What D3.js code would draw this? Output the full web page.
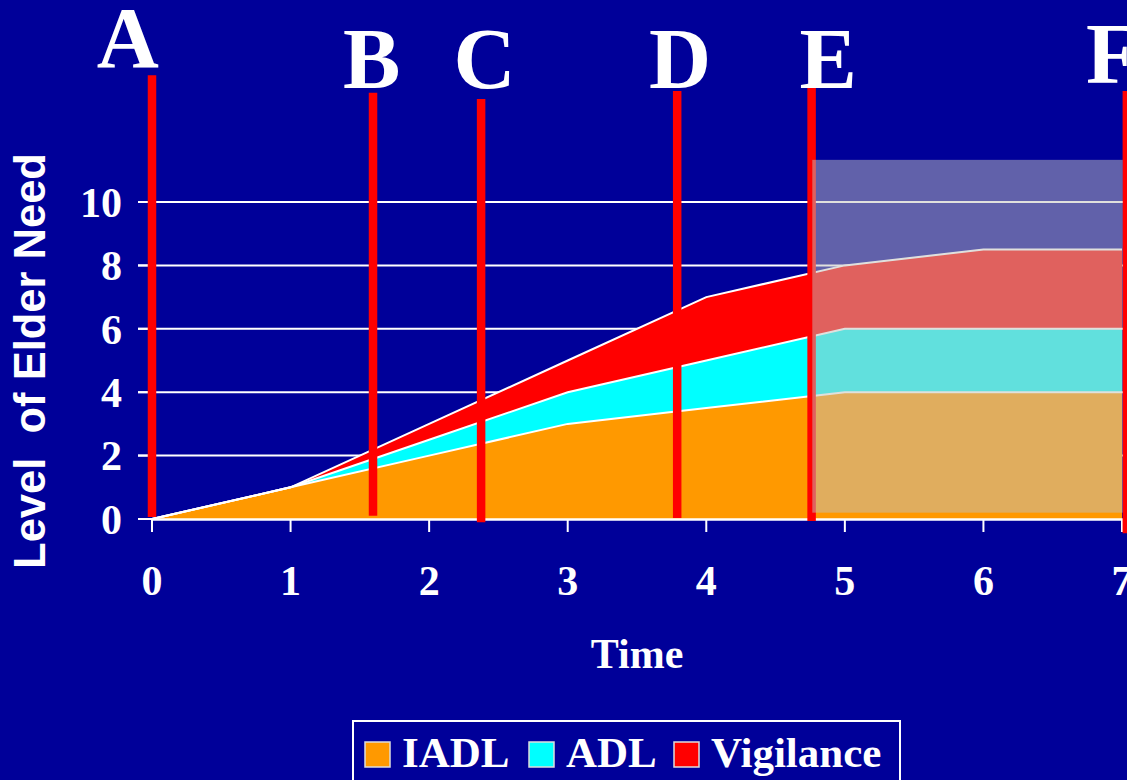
<!DOCTYPE html>
<html>
<head>
<meta charset="utf-8">
<script src="https://cdn.jsdelivr.net/npm/d3@7/dist/d3.min.js"></script>
<style>
  html, body { margin: 0; padding: 0; background: #000099; }
  svg { display: block; }
</style>
</head>
<body>
<svg id="chart" width="1127" height="780"></svg>
<script>
// Time points (x) and the need contributed by each kind of care
const times = [0, 1, 2, 3, 4, 5, 6, 7];
const iadl = [0, 1, 2, 3, 3.5, 4, 4, 4];
const adl = [0, 0, 0.5, 1, 1.5, 2, 2, 2];
const vigilance = [0, 0, 0.5, 1, 2, 2, 2.5, 2.5];

const seriesNames = ["IADL", "ADL", "Vigilance"];
const seriesColors = ["#FF9900", "#00FFFF", "#FF0000"];

const xTicks = [0, 1, 2, 3, 4, 5, 6, 7];
const yTicks = [0, 2, 4, 6, 8, 10];

// Stage markers A–F: time of the vertical bar, its extent in need units,
// and where its letter sits
const markerLabels = ["A", "B", "C", "D", "E", "F"];
const markerTimes = [0, 1.595, 2.375, 3.79, 4.76, 7.035];
const markerTops = [14.0, 13.45, 13.25, 13.5, 13.6, 13.5];
const markerBottoms = [0.06, 0.1, -0.1, 0.03, -0.06, -0.45];
const labelTimes = [-0.175, 1.585, 2.4, 3.81, 4.88, 6.93];
const labelLevels = [14.25, 13.6, 13.6, 13.6, 13.6, 13.75];

// Projected period shaded from E onward
const projStart = 4.765, projEnd = 7.005, projTop = 11.33, projBottom = 0.2;

const svg = d3.select("#chart");
const W = 1127, H = 780;

svg.append("rect").attr("width", W).attr("height", H).attr("fill", "#000099");

const x = d3.scaleLinear().domain([0, 7]).range([152, 1122]);
const y = d3.scaleLinear().domain([0, 10]).range([519, 202]);

const serif = "'Liberation Serif', 'Times New Roman', serif";
const sans = "'Liberation Sans', Arial, sans-serif";

// Gridlines
svg.append("g")
  .selectAll("line")
  .data(yTicks.filter(d => d > 0))
  .join("line")
  .attr("x1", x(0) - 14).attr("x2", x(7) + 1)
  .attr("y1", d => y(d)).attr("y2", d => y(d))
  .attr("stroke", "#ffffff").attr("stroke-width", 2);

// Stacked areas
const rows = times.map((t, i) => ({ t, IADL: iadl[i], ADL: adl[i], Vigilance: vigilance[i] }));
const stack = d3.stack().keys(seriesNames);
const layers = stack(rows);

const area = d3.area()
  .x(d => x(d.data.t))
  .y0(d => y(d[0]))
  .y1(d => y(d[1]));
const topLine = d3.line()
  .x(d => x(d.data.t))
  .y(d => y(d[1]));

const gAreas = svg.append("g");
gAreas.selectAll("path.area")
  .data(layers)
  .join("path")
  .attr("class", "area")
  .attr("d", area)
  .attr("fill", (d, i) => seriesColors[i]);
gAreas.selectAll("path.edge")
  .data(layers)
  .join("path")
  .attr("class", "edge")
  .attr("d", topLine)
  .attr("fill", "none")
  .attr("stroke", "#ffffff")
  .attr("stroke-width", 2);

// X axis line and ticks
svg.append("line")
  .attr("x1", x(0)).attr("x2", x(7) + 2)
  .attr("y1", y(0) + 0.5).attr("y2", y(0) + 0.5)
  .attr("stroke", "#ffffff").attr("stroke-width", 2.5);
svg.append("g")
  .selectAll("line")
  .data(xTicks)
  .join("line")
  .attr("x1", d => x(d)).attr("x2", d => x(d))
  .attr("y1", y(0)).attr("y2", y(0) + 13)
  .attr("stroke", "#ffffff").attr("stroke-width", 2);

// Y tick marks
svg.append("g")
  .selectAll("line")
  .data(yTicks)
  .join("line")
  .attr("x1", x(0) - 14).attr("x2", x(0))
  .attr("y1", d => y(d)).attr("y2", d => y(d))
  .attr("stroke", "#ffffff").attr("stroke-width", 2);

// Stage marker bars
svg.append("g")
  .selectAll("line")
  .data(markerTimes)
  .join("line")
  .attr("x1", d => x(d)).attr("x2", d => x(d))
  .attr("y1", (d, i) => y(markerTops[i]))
  .attr("y2", (d, i) => y(markerBottoms[i]))
  .attr("stroke", "#FF0000").attr("stroke-width", 8.5);

// Shaded projection
svg.append("rect")
  .attr("x", x(projStart))
  .attr("y", y(projTop))
  .attr("width", x(projEnd) - x(projStart))
  .attr("height", y(projBottom) - y(projTop))
  .attr("fill", "rgb(194,194,188)")
  .attr("fill-opacity", 0.5);

// Stage letters
svg.append("g")
  .selectAll("text")
  .data(markerLabels)
  .join("text")
  .attr("x", (d, i) => x(labelTimes[i]))
  .attr("y", (d, i) => y(labelLevels[i]))
  .attr("text-anchor", "middle")
  .attr("font-family", serif)
  .attr("font-weight", "bold")
  .attr("font-size", 86)
  .attr("fill", "#ffffff")
  .text(d => d);

// Tick labels
svg.append("g")
  .selectAll("text")
  .data(yTicks)
  .join("text")
  .attr("x", 122)
  .attr("y", d => y(d))
  .attr("dy", "0.35em")
  .attr("text-anchor", "end")
  .attr("font-family", serif)
  .attr("font-weight", "bold")
  .attr("font-size", 42)
  .attr("fill", "#ffffff")
  .text(d => d);

svg.append("g")
  .selectAll("text")
  .data(xTicks)
  .join("text")
  .attr("x", d => x(d))
  .attr("y", 595)
  .attr("text-anchor", "middle")
  .attr("font-family", serif)
  .attr("font-weight", "bold")
  .attr("font-size", 42)
  .attr("fill", "#ffffff")
  .text(d => d);

// Axis titles
svg.append("text")
  .attr("x", 637).attr("y", 668)
  .attr("text-anchor", "middle")
  .attr("font-family", serif)
  .attr("font-weight", "bold")
  .attr("font-size", 42)
  .attr("fill", "#ffffff")
  .text("Time");

svg.append("text")
  .attr("transform", "translate(45,361) rotate(-90)")
  .attr("text-anchor", "middle")
  .attr("font-family", sans)
  .attr("font-weight", "bold")
  .attr("font-size", 43.5)
  .attr("fill", "#ffffff")
  .attr("xml:space", "preserve")
  .style("white-space", "pre")
  .text("Level  of Elder Need");

// Legend
const legend = svg.append("g");
legend.append("rect")
  .attr("x", 353).attr("y", 721)
  .attr("width", 547).attr("height", 70)
  .attr("fill", "none")
  .attr("stroke", "#ffffff").attr("stroke-width", 2);

const legendX = [365, 529, 674];
const items = legend.selectAll("g.item")
  .data(seriesNames)
  .join("g")
  .attr("class", "item")
  .attr("transform", (d, i) => `translate(${legendX[i]},0)`);
items.append("rect")
  .attr("x", 0).attr("y", 742)
  .attr("width", 25).attr("height", 25)
  .attr("fill", (d, i) => seriesColors[i])
  .attr("stroke", "#dddddd").attr("stroke-width", 1.5);
items.append("text")
  .attr("x", 37).attr("y", 767)
  .attr("font-family", serif)
  .attr("font-weight", "bold")
  .attr("font-size", 43)
  .attr("fill", "#ffffff")
  .text(d => d);
</script>
</body>
</html>
